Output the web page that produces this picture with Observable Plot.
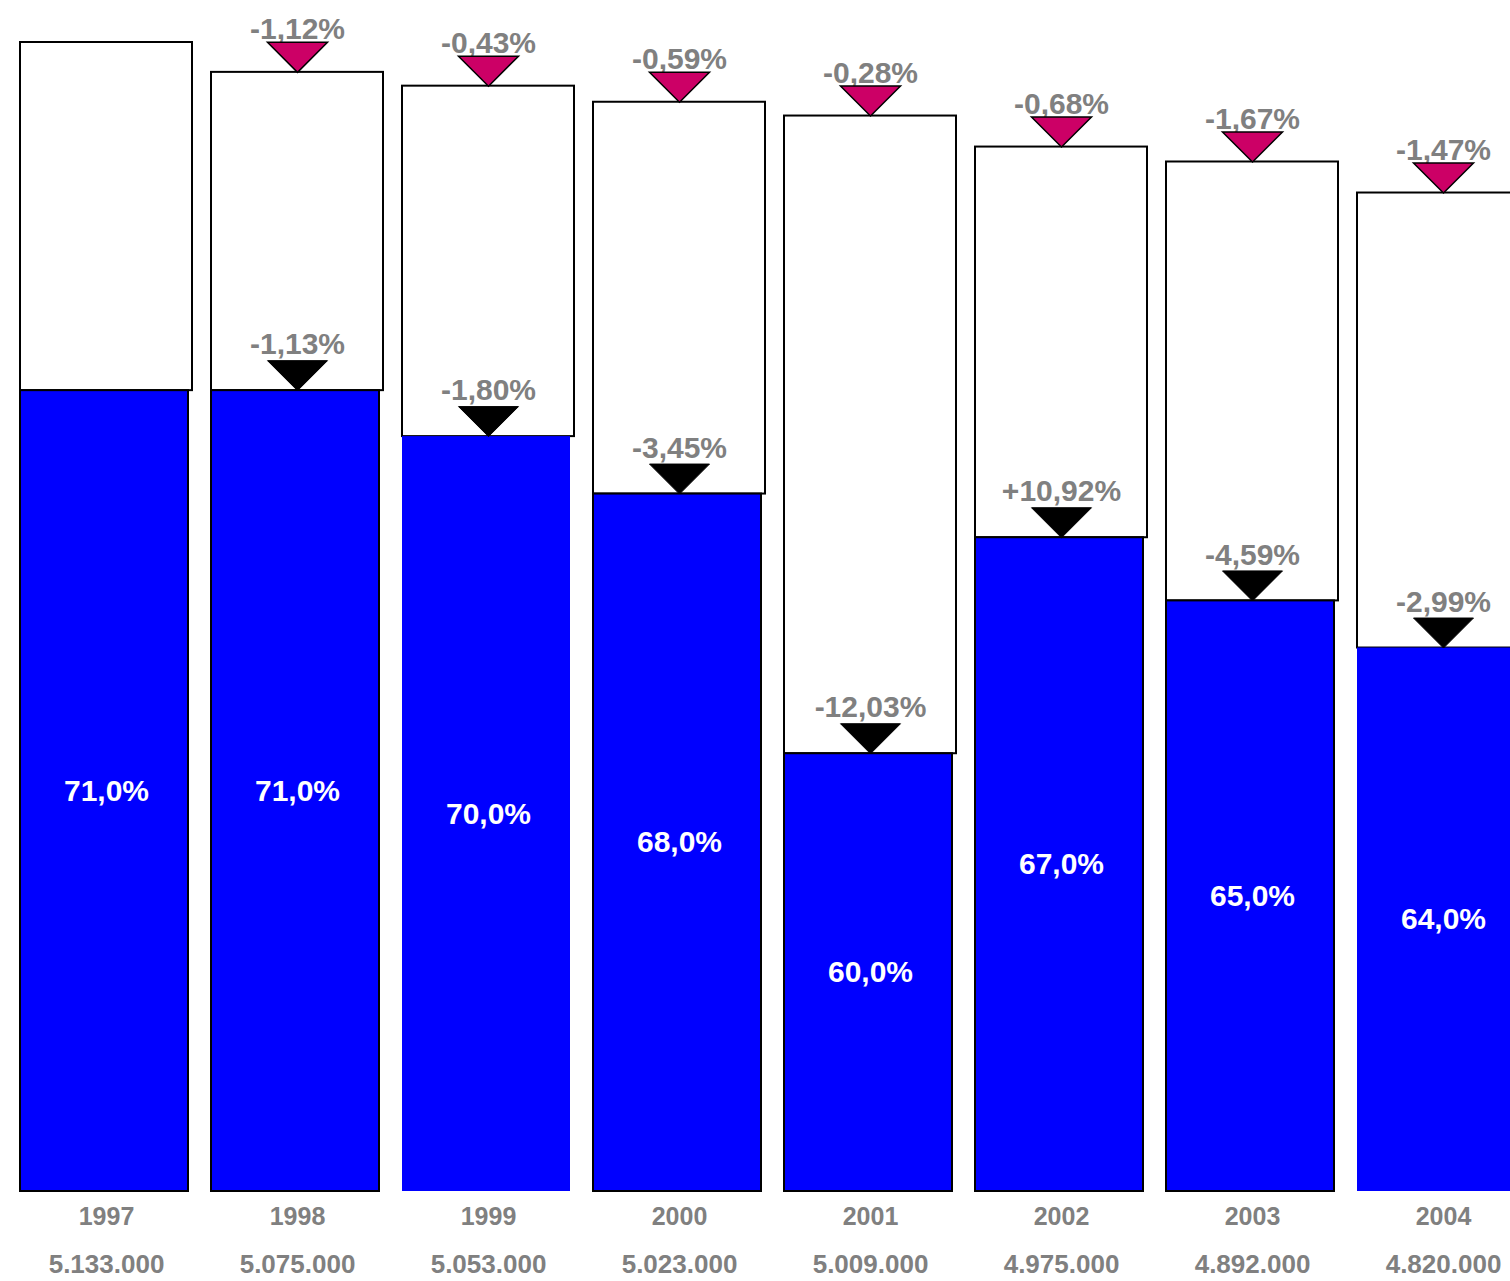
<!DOCTYPE html>
<html>
<head>
<meta charset="utf-8">
<script src="https://cdn.jsdelivr.net/npm/d3@7"></script>
<script src="https://cdn.jsdelivr.net/npm/@observablehq/plot@0.6"></script>
<style>
  html, body { margin: 0; padding: 0; background: #ffffff; }
  #chart svg { display: block; font-family: "Liberation Sans", Arial, Helvetica, sans-serif; }
</style>
</head>
<body>
<div id="chart"></div>
<script>
// ---- data ----
const years = ["1997", "1998", "1999", "2000", "2001", "2002", "2003", "2004"];
const totals = [5133000, 5075000, 5053000, 5023000, 5009000, 4975000, 4892000, 4820000];
const sharePct = [71.0, 71.0, 70.0, 68.0, 60.0, 67.0, 65.0, 64.0];
const totalChange = [null, -1.12, -0.43, -0.59, -0.28, -0.68, -1.67, -1.47];
const shareChange = [null, -1.13, -1.80, -3.45, -12.03, 10.92, -4.59, -2.99];
// bar heights as drawn in the picture (tallest bar, 1997 = 100)
const totalLevel = [100, 97.4, 96.2, 94.8, 93.6, 90.9, 89.6, 86.9];
const shareLevel = [69.7, 69.7, 65.7, 60.7, 38.1, 56.9, 51.4, 47.3];

const data = years.map((year, i) => ({
  year,
  total: totals[i],
  share: sharePct[i],
  totalChange: totalChange[i],
  shareChange: shareChange[i],
  totalLevel: totalLevel[i],
  shareLevel: shareLevel[i]
}));

const gray = "#808080";
const fmtPct1 = v => v.toFixed(1).replace(".", ",") + "%";
const fmtChange = v => (v > 0 ? "+" : "") + v.toFixed(2).replace(".", ",") + "%";
const fmtTotal = v => d3.format(",")(v).replace(/,/g, ".");

// downward triangle whose tip sits on the anchor point
const downTriangle = {
  draw(ctx) {
    ctx.moveTo(-30, -30);
    ctx.lineTo(30, -30);
    ctx.lineTo(0, 0);
    ctx.closePath();
  }
};

const withTotalChange = data.filter(d => d.totalChange != null);
const withShareChange = data.filter(d => d.shareChange != null);

const chart = Plot.plot({
  width: 1510,
  height: 1281,
  marginTop: 42,
  marginBottom: 90,
  marginLeft: 14,
  marginRight: 0,
  style: { fontFamily: "'Liberation Sans', Arial, sans-serif", background: "#ffffff" },
  x: { type: "band", domain: years, range: [18, 1531], paddingInner: 0.1, paddingOuter: 0 },
  y: { domain: [0, 100], axis: null },
  marks: [
    // white upper part (total)
    Plot.barY(data, {
      x: "year", y1: "shareLevel", y2: "totalLevel",
      fill: "#ffffff", stroke: "#000000", strokeWidth: 2
    }),
    // blue part (share)
    Plot.barY(data, {
      x: "year", y: "shareLevel",
      fill: "#0000ff",
      stroke: d => (d.year === "1999" || d.year === "2004") ? "none" : "#000000",
      strokeWidth: 2, insetRight: 4
    }),
    // share percentage labels inside blue bars
    Plot.text(data, {
      x: "year", y: d => d.shareLevel / 2,
      text: d => fmtPct1(d.share),
      fill: "#ffffff", fontSize: 30, fontWeight: "bold", lineAnchor: "middle"
    }),
    // change labels
    Plot.text(withTotalChange, {
      x: "year", y: "totalLevel", dy: -43,
      text: d => fmtChange(d.totalChange),
      fill: gray, fontSize: 30, fontWeight: "bold", lineAnchor: "middle"
    }),
    Plot.text(withShareChange, {
      x: "year", y: "shareLevel", dy: -46,
      text: d => fmtChange(d.shareChange),
      fill: gray, fontSize: 30, fontWeight: "bold", lineAnchor: "middle"
    }),
    // triangles
    Plot.dot(withTotalChange, {
      x: "year", y: "totalLevel", symbol: downTriangle,
      fill: "#cc0066", stroke: "#000000", strokeWidth: 1.5
    }),
    Plot.dot(withShareChange, {
      x: "year", y: "shareLevel", symbol: downTriangle,
      fill: "#000000", stroke: "#000000", strokeWidth: 1
    }),
    // year axis
    Plot.axisX({
      tickSize: 0, tickPadding: 16, fontSize: 25, fontWeight: "bold",
      fill: gray, label: null, lineAnchor: "top"
    }),
    // totals below the years
    Plot.text(data, {
      x: "year", y: 0, dy: 63,
      text: d => fmtTotal(d.total),
      fill: gray, fontSize: 26, fontWeight: "bold", lineAnchor: "top"
    })
  ]
});

document.getElementById("chart").appendChild(chart);
</script>
</body>
</html>
